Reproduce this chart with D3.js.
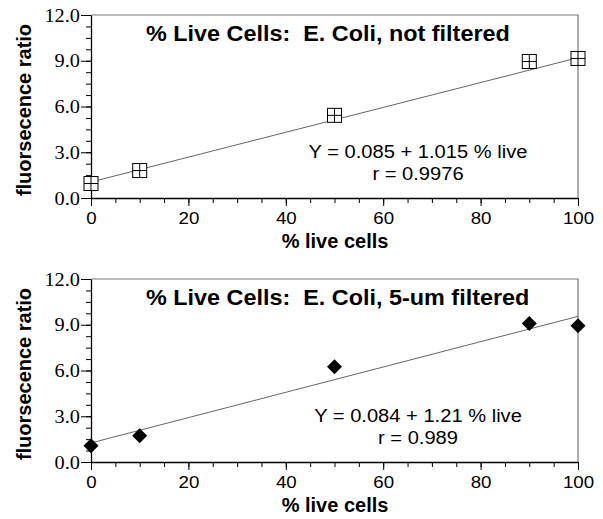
<!DOCTYPE html>
<html>
<head>
<meta charset="utf-8">
<script src="https://cdn.jsdelivr.net/npm/d3@7"></script>
<style>
  body { margin: 0; background: #fff; }
  text { white-space: pre; }
</style>
</head>
<body>
<div id="chart"></div>
<script>
// data
const pctLive = [0, 10, 50, 90, 100];
const ratioUnfiltered = [0.95, 1.8, 5.42, 8.95, 9.15];
const ratioFiltered = [1.07, 1.72, 6.25, 9.09, 8.94];
const fitX = [0, 100];
const fitUnfiltered = [1.05, 9.2];
const fitFiltered = [1.25, 9.55];
const xMajorTicks = [0, 20, 40, 60, 80, 100];
const yMajorTicks = [0, 3, 6, 9, 12];
const yTickLabels = ["0.0", "3.0", "6.0", "9.0", "12.0"];
const titles = ["% Live Cells:  E. Coli, not filtered", "% Live Cells:  E. Coli, 5-um filtered"];
const equations = [
  ["Y = 0.085 + 1.015 % live", "r = 0.9976"],
  ["Y = 0.084 + 1.21 % live", "r = 0.989"]
];

const W = 603, H = 519;
const sans = "'Liberation Sans', Arial, sans-serif";
const serif = "'Liberation Serif', 'Times New Roman', serif";

const svg = d3.select("#chart").append("svg")
  .attr("width", W).attr("height", H);

// text in the picture is slightly wide, so squeeze/stretch horizontally
function stretch(sel, x, y, sx) {
  sel.attr("x", 0).attr("y", 0)
    .attr("transform", `translate(${x},${y}) scale(${sx},1)`);
}

function panel(top, values, fitY, marker, title, eq) {
  const x = d3.scaleLinear().domain([0, 100]).range([91, 578]);
  const y = d3.scaleLinear().domain([0, 12]).range([top + 183, top]);
  const g = svg.append("g");

  // top and right frame
  g.append("path")
    .attr("d", `M${x(0)},${y(12)}H${x(100)}V${y(0)}`)
    .attr("fill", "none").attr("stroke", "#777").attr("stroke-width", 1.2);

  // x axis, minor then major ticks
  g.append("g").attr("transform", `translate(0,${y(0)})`)
    .call(d3.axisBottom(x).tickValues(d3.range(0, 101, 5)).tickSize(5).tickFormat(""))
    .call(a => a.select(".domain").remove());
  const xa = g.append("g").attr("transform", `translate(0,${y(0)})`)
    .call(d3.axisBottom(x).tickValues(xMajorTicks).tickSize(8).tickSizeOuter(0).tickFormat(d3.format("d")));
  xa.selectAll("text")
    .attr("font-family", sans).attr("font-size", 17).attr("fill", "#000")
    .each(function () { stretch(d3.select(this), 0, 26, 1.1); })
    .attr("dy", null);

  // y axis
  g.append("g").attr("transform", `translate(${x(0)},0)`)
    .call(d3.axisLeft(y).tickValues(d3.range(0, 12.01, 0.75)).tickSize(5).tickFormat(""))
    .call(a => a.select(".domain").remove());
  const ya = g.append("g").attr("transform", `translate(${x(0)},0)`)
    .call(d3.axisLeft(y).tickValues(yMajorTicks).tickSize(10).tickSizeOuter(0)
      .tickFormat((d, i) => yTickLabels[i]));
  ya.selectAll("text")
    .attr("font-family", serif).attr("font-size", 18.5).attr("fill", "#000")
    .attr("text-anchor", "end").attr("dy", "0.33em")
    .each(function () { stretch(d3.select(this), -11, 0, 1.1); });
  g.selectAll(".tick line").attr("stroke", "#000");
  g.selectAll(".domain").attr("stroke", "#000").attr("stroke-width", 1.3);

  // fit line
  g.append("line")
    .attr("x1", x(fitX[0])).attr("y1", y(fitY[0]))
    .attr("x2", x(fitX[1])).attr("y2", y(fitY[1]))
    .attr("stroke", "#555").attr("stroke-width", 0.9);

  // points
  const pts = g.append("g").selectAll("g")
    .data(pctLive.map((p, i) => [p, values[i]]))
    .join("g")
    .attr("transform", d => `translate(${x(d[0])},${y(d[1])})`);
  if (marker === "square") {
    pts.append("rect").attr("x", -7).attr("y", -7).attr("width", 14).attr("height", 14)
      .attr("fill", "#fff").attr("stroke", "#000").attr("stroke-width", 1);
    pts.append("path").attr("d", "M-7,0H7M0,-7V7")
      .attr("stroke", "#000").attr("stroke-width", 1);
  } else {
    pts.append("path").attr("d", "M0,-7.5L7.5,0L0,7.5L-7.5,0Z").attr("fill", "#000");
  }

  // title
  g.append("text").text(title)
    .attr("font-family", sans).attr("font-weight", "bold").attr("font-size", 22.5)
    .call(s => stretch(s, 146, top + 26, 1.04));

  // equation
  eq.forEach((t, i) => {
    g.append("text").text(t)
      .attr("font-family", sans).attr("font-size", 19).attr("text-anchor", "middle")
      .call(s => stretch(s, 418, top + 143 + i * 22, 1.06));
  });

  // axis titles
  g.append("text").text("% live cells")
    .attr("font-family", sans).attr("font-weight", "bold").attr("font-size", 20)
    .attr("text-anchor", "middle")
    .call(s => stretch(s, 335, top + 233, 1.0));
  g.append("text").text("fluorsecence ratio")
    .attr("font-family", sans).attr("font-weight", "bold").attr("font-size", 20)
    .attr("text-anchor", "middle")
    .attr("transform", `translate(31,${top + 95}) rotate(-90) scale(1,1.04)`);
}

panel(15, ratioUnfiltered, fitUnfiltered, "square", titles[0], equations[0]);
panel(279, ratioFiltered, fitFiltered, "diamond", titles[1], equations[1]);
</script>
</body>
</html>
